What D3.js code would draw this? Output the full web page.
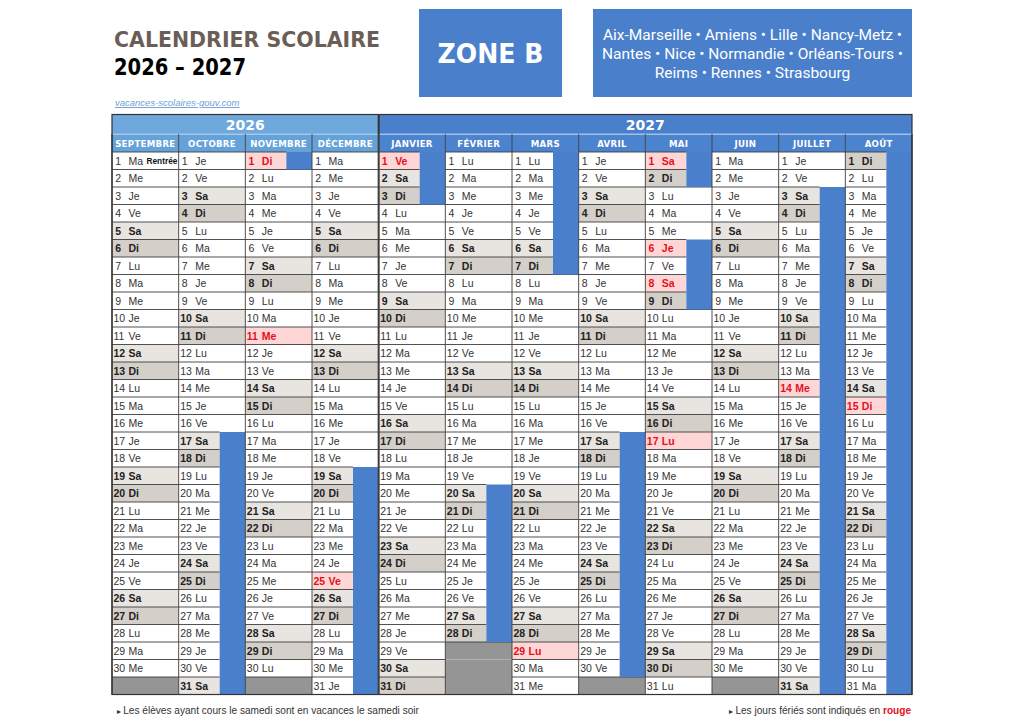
<!DOCTYPE html>
<html><head><meta charset="utf-8">
<script src="https://cdn.jsdelivr.net/npm/d3@7/dist/d3.min.js"></script>
<style>
html,body{margin:0;padding:0;background:#fff;}
svg{display:block;}
</style></head>
<body>
<svg id="c" width="1024" height="724"></svg>
<script>
const months = ["SEPTEMBRE","OCTOBRE","NOVEMBRE","DÉCEMBRE","JANVIER","FÉVRIER","MARS","AVRIL","MAI","JUIN","JUILLET","AOÛT"];
const monthYear = [2026,2026,2026,2026,2027,2027,2027,2027,2027,2027,2027,2027];
const years = ["2026","2027"];
const monthLengths = [30,31,30,31,31,28,31,30,31,30,31,31];
const firstWeekday = [1,3,6,1,4,0,0,3,5,1,3,6]; // 0 = Lu
const dayAbbr = ["Lu","Ma","Me","Je","Ve","Sa","Di"];
// vacations: [monthIndex, firstDay, lastDay]
const vacations = [[1,17,31],[2,1,1],[3,19,31],[4,1,3],[5,20,28],[6,1,7],[7,17,30],[8,1,2],[8,6,9],[10,3,31],[11,1,31]];
// public holidays: [monthIndex, day]
const holidays = [[2,1],[2,11],[3,25],[4,1],[6,29],[8,1],[8,6],[8,8],[8,17],[10,14],[11,15]];
const academies = ["Aix-Marseille • Amiens • Lille • Nancy-Metz •","Nantes • Nice • Normandie • Orléans-Tours •","Reims • Rennes • Strasbourg"];
const days = d3.range(1,32);

const C = {
  dark:"#4a7fcc", light:"#6fa8dc", lightM:"#66a2da", darkM:"#4c83ce",
  sa:"#e8e4e0", di:"#d4cfc9", pink:"#ffd6d6", red:"#e3101d", miss:"#959595",
  line:"#3d3d3d", txt:"#333"
};

const svg = d3.select("#c");
const x = d3.scaleBand().domain(d3.range(12)).range([112,912]);
const y = d3.scaleBand().domain(days).range([152,694.5]);
const W = x.bandwidth(), H = y.bandwidth();
const cellW = W*0.615;

// Title
svg.append("text").attr("x",114).attr("y",47).text("CALENDRIER SCOLAIRE")
  .attr("font-family","'DejaVu Sans'").attr("font-weight","bold").attr("font-size",21.5)
  .attr("fill","#6b5e57").attr("textLength",266).attr("lengthAdjust","spacingAndGlyphs");
svg.append("text").attr("x",114).attr("y",75).text("2026 – 2027")
  .attr("font-family","'DejaVu Sans'").attr("font-weight","bold").attr("font-size",23)
  .attr("fill","#000").attr("textLength",132).attr("lengthAdjust","spacingAndGlyphs");

// Zone box
svg.append("rect").attr("x",419).attr("y",9).attr("width",143).attr("height",88).attr("fill",C.dark);
svg.append("text").attr("x",490.5).attr("y",63).attr("text-anchor","middle").text("ZONE B")
  .attr("font-family","'DejaVu Sans'").attr("font-weight","bold").attr("font-size",27)
  .attr("fill","#fff").attr("textLength",106).attr("lengthAdjust","spacingAndGlyphs");
svg.append("rect").attr("x",593).attr("y",9).attr("width",319).attr("height",88).attr("fill",C.dark);
svg.selectAll("text.acad").data(academies).join("text").attr("class","acad")
  .attr("x",752.5).attr("y",(d,i)=>40+i*19).attr("text-anchor","middle").text(d=>d)
  .attr("font-family","Roboto").attr("font-size",15.5).attr("fill","#fff");

// link
svg.append("text").attr("x",115).attr("y",106).text("vacances-scolaires-gouv.com")
  .attr("font-family","'Liberation Sans'").attr("font-style","italic").attr("font-size",9.5)
  .attr("fill","#6f9fd6").attr("text-decoration","underline");

// Year header
const yearSpans = years.map(yr=>{
  const idx = d3.range(12).filter(i=>String(monthYear[i])===yr);
  return {yr, x0:x(idx[0]), x1:x(idx[idx.length-1])+W};
});
svg.selectAll("rect.yr").data(yearSpans).join("rect").attr("class","yr")
  .attr("x",d=>d.x0).attr("y",115).attr("width",d=>d.x1-d.x0).attr("height",19)
  .attr("fill",d=>d.yr==="2026"?C.light:C.dark);
svg.selectAll("text.yr").data(yearSpans).join("text").attr("class","yr")
  .attr("x",d=>(d.x0+d.x1)/2).attr("y",130).attr("text-anchor","middle").text(d=>d.yr)
  .attr("font-family","'DejaVu Sans'").attr("font-weight","bold").attr("font-size",14).attr("fill","#fff");

// Month header
svg.selectAll("rect.mh").data(months).join("rect").attr("class","mh")
  .attr("x",(d,i)=>x(i)).attr("y",134.5).attr("width",W).attr("height",17.5)
  .attr("fill",(d,i)=>monthYear[i]===2026?C.lightM:C.darkM);
svg.append("line").attr("x1",112).attr("x2",912).attr("y1",134).attr("y2",134).attr("stroke","#9cc3ea").attr("stroke-width",1);
svg.selectAll("text.mh").data(months).join("text").attr("class","mh")
  .attr("x",(d,i)=>x(i)+W/2).attr("y",147.3).attr("text-anchor","middle").text(d=>d)
  .attr("font-family","'DejaVu Sans'").attr("font-weight","bold").attr("font-size",8.6)
  .attr("fill","#fff").attr("letter-spacing",0.3);

// Cells
const isVac = (m,d)=>vacations.some(v=>v[0]===m && d>=v[1] && d<=v[2]);
const isHol = (m,d)=>holidays.some(h=>h[0]===m && h[1]===d);
const cells = [];
months.forEach((mn,m)=>{
  days.forEach(d=>{
    if(d>monthLengths[m]){ cells.push({m,d,missing:true}); return; }
    const wd = (firstWeekday[m]+d-1)%7;
    cells.push({m,d,wd,vac:isVac(m,d),hol:isHol(m,d)});
  });
});
const g = svg.append("g");
g.selectAll("rect.cell").data(cells).join("rect").attr("class","cell")
  .attr("x",c=>x(c.m)).attr("y",c=>y(c.d))
  .attr("width",c=>c.vac?cellW:W).attr("height",H)
  .attr("fill",c=>c.missing?C.miss:c.hol?C.pink:c.wd===5?C.sa:c.wd===6?C.di:"#fff");
// horizontal lines for cells
g.selectAll("line.h").data(cells.filter(c=>!c.missing || c.d===monthLengths[c.m]+1)).join("line").attr("class","h")
  .attr("x1",c=>x(c.m)).attr("x2",c=>x(c.m)+(c.vac?cellW:W))
  .attr("y1",c=>y(c.d)).attr("y2",c=>y(c.d))
  .attr("stroke",C.line).attr("stroke-width",0.9);
// vacation bars
const bars = vacations.map(v=>({m:v[0],a:v[1],b:v[2]}));
g.selectAll("rect.vac").data(bars).join("rect").attr("class","vac")
  .attr("x",b=>x(b.m)+cellW).attr("y",b=>y(b.a)).attr("width",W-cellW).attr("height",b=>y(b.b)+H-y(b.a))
  .attr("fill",C.dark);
// texts
const txt = cells.filter(c=>!c.missing);
const bold = c=>c.hol||c.wd>=5;
g.selectAll("text.num").data(txt).join("text").attr("class","num")
  .attr("x",c=>x(c.m)+(c.d<10?3.2:1.5)).attr("y",c=>y(c.d)+H/2+4)
  .text(c=>c.d)
  .attr("font-family","'Liberation Sans'").attr("font-size",10.5)
  .attr("font-weight",c=>bold(c)?"bold":"normal")
  .attr("fill",c=>c.hol?C.red:bold(c)?"#222":C.txt);
g.selectAll("text.wd").data(txt).join("text").attr("class","wd")
  .attr("x",c=>x(c.m)+16.5).attr("y",c=>y(c.d)+H/2+4)
  .text(c=>dayAbbr[c.wd])
  .attr("font-family","'Liberation Sans'").attr("font-size",10.5)
  .attr("font-weight",c=>bold(c)?"bold":"normal")
  .attr("fill",c=>c.hol?C.red:bold(c)?"#222":C.txt);
// Rentrée
svg.append("text").attr("x",x(0)+34.5).attr("y",y(1)+H/2+3.5).text("Rentrée")
  .attr("font-family","'Liberation Sans'").attr("font-weight","bold").attr("font-size",8.3).attr("fill","#111");

// vertical column lines
svg.selectAll("line.v").data(d3.range(13)).join("line").attr("class","v")
  .attr("x1",i=>i<12?x(i):912).attr("x2",i=>i<12?x(i):912)
  .attr("y1",134).attr("y2",694.5)
  .attr("stroke",i=>(i===0||i===12)?"#333":C.line).attr("stroke-width",i=>i===4?2:(i===0||i===12)?1.2:0.9);
// year separator line top
svg.append("line").attr("x1",x(4)).attr("x2",x(4)).attr("y1",114.5).attr("y2",134).attr("stroke","#333").attr("stroke-width",2);
// outer border
svg.append("rect").attr("x",112).attr("y",114.5).attr("width",800).attr("height",580).attr("fill","none").attr("stroke","#333").attr("stroke-width",1.2);

// footer
const f1 = svg.append("text").attr("x",117).attr("y",713.5).attr("font-family","'Liberation Sans'").attr("font-size",10.1).attr("fill","#333");
f1.append("tspan").text("▸ ").attr("font-size",8);
f1.append("tspan").text("Les élèves ayant cours le samedi sont en vacances le samedi soir");
const f2 = svg.append("text").attr("x",911).attr("y",713.5).attr("text-anchor","end").attr("font-family","'Liberation Sans'").attr("font-size",10.1).attr("fill","#333");
f2.append("tspan").text("▸ ").attr("font-size",8);
f2.append("tspan").text("Les jours fériés sont indiqués en ");
f2.append("tspan").text("rouge").attr("fill",C.red).attr("font-weight","bold");
</script>
</body></html>
